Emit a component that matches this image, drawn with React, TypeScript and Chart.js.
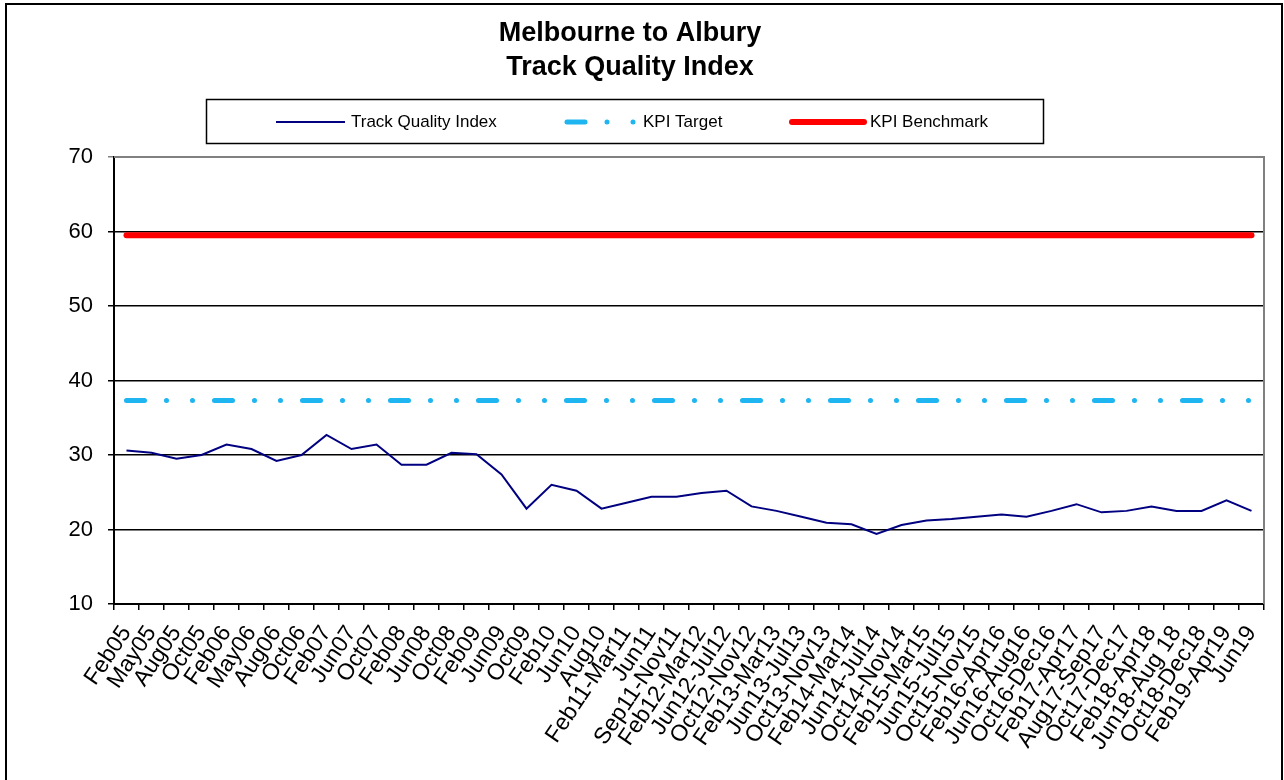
import React, { useEffect, useRef } from "react";
import { Chart, registerables } from "chart.js";

Chart.register(...registerables);

const FONT = '"Liberation Sans", Arial, Helvetica, sans-serif';

const titleLines = ["Melbourne to Albury", "Track Quality Index"];

const categories = [
  "Feb05", "May05", "Aug05", "Oct05", "Feb06", "May06", "Aug06", "Oct06",
  "Feb07", "Jun07", "Oct07", "Feb08", "Jun08", "Oct08", "Feb09", "Jun09",
  "Oct09", "Feb10", "Jun10", "Aug10", "Feb11-Mar11", "Jun11", "Sep11-Nov11",
  "Feb12-Mar12", "Jun12-Jul12", "Oct12-Nov12", "Feb13-Mar13", "Jun13-Jul13",
  "Oct13-Nov13", "Feb14-Mar14", "Jun14-Jul14", "Oct14-Nov14", "Feb15-Mar15",
  "Jun15-Jul15", "Oct15-Nov15", "Feb16-Apr16", "Jun16-Aug16", "Oct16-Dec16",
  "Feb17-Apr17", "Aug17-Sep17", "Oct17-Dec17", "Feb18-Apr18", "Jun18-Aug 18",
  "Oct18-Dec18", "Feb19-Apr19", "Jun19",
];

const trackQualityIndex = [
  30.6, 30.3, 29.5, 30.0, 31.4, 30.8, 29.2, 30.0, 32.7, 30.8, 31.4, 28.7,
  28.7, 30.3, 30.1, 27.4, 22.8, 26.0, 25.2, 22.8, 23.6, 24.4, 24.4, 24.9,
  25.2, 23.1, 22.5, 21.7, 20.9, 20.7, 19.4, 20.6, 21.2, 21.4, 21.7, 22.0,
  21.7, 22.5, 23.4, 22.3, 22.5, 23.1, 22.5, 22.5, 23.9, 22.5,
];

const kpiTargetValue = 37.3;
const kpiBenchmarkValue = 59.5;

const seriesNames = ["Track Quality Index", "KPI Target", "KPI Benchmark"];
const seriesColors = ["#000080", "#1FB5F0", "#FF0000"];

const yMin = 10;
const yMax = 70;
const yStep = 10;

const TARGET_DASH = [18, 22, 0, 26, 0, 22];

const decorPlugin = {
  id: "decor",
  beforeDraw(chart: any) {
    const ctx = chart.ctx;
    ctx.save();
    ctx.fillStyle = "#ffffff";
    ctx.fillRect(0, 0, chart.width, chart.height);
    ctx.restore();
  },
  afterDraw(chart: any) {
    const ctx = chart.ctx;
    const area = chart.chartArea;
    ctx.save();
    ctx.strokeStyle = "#808080";
    ctx.lineWidth = 2;
    ctx.beginPath();
    ctx.moveTo(area.left, area.top);
    ctx.lineTo(area.right, area.top);
    ctx.lineTo(area.right, area.bottom);
    ctx.stroke();

    ctx.strokeStyle = "#000000";
    ctx.lineWidth = 2;
    ctx.strokeRect(6, 4, 1276, 800);

    ctx.fillStyle = "#000000";
    ctx.font = `bold 27px ${FONT}`;
    ctx.textAlign = "center";
    ctx.textBaseline = "middle";
    ctx.fillText(titleLines[0], 630, 34);
    ctx.fillText(titleLines[1], 630, 68);

    ctx.lineWidth = 1.5;
    ctx.strokeStyle = "#000000";
    ctx.strokeRect(206.5, 99.5, 837, 44);

    const ly = 122;
    ctx.font = `17px ${FONT}`;
    ctx.textAlign = "left";
    ctx.textBaseline = "middle";

    ctx.strokeStyle = seriesColors[0];
    ctx.lineWidth = 2;
    ctx.beginPath();
    ctx.moveTo(276, ly);
    ctx.lineTo(345, ly);
    ctx.stroke();
    ctx.fillText(seriesNames[0], 351, ly);

    ctx.strokeStyle = seriesColors[1];
    ctx.lineWidth = 5;
    ctx.lineCap = "round";
    ctx.setLineDash(TARGET_DASH);
    ctx.beginPath();
    ctx.moveTo(567, ly);
    ctx.lineTo(640, ly);
    ctx.stroke();
    ctx.setLineDash([]);
    ctx.fillText(seriesNames[1], 643, ly);

    ctx.strokeStyle = seriesColors[2];
    ctx.lineWidth = 6;
    ctx.lineCap = "round";
    ctx.beginPath();
    ctx.moveTo(792, ly);
    ctx.lineTo(864, ly);
    ctx.stroke();
    ctx.fillText(seriesNames[2], 870, ly);

    ctx.restore();
  },
};

export default function App() {
  const canvasRef = useRef<HTMLCanvasElement | null>(null);

  useEffect(() => {
    const canvas = canvasRef.current;
    if (!canvas) return;
    const chart = new Chart(canvas, {
      type: "line",
      data: {
        labels: categories,
        datasets: [
          {
            label: seriesNames[2],
            data: categories.map(() => kpiBenchmarkValue),
            borderColor: seriesColors[2],
            borderWidth: 6,
            borderCapStyle: "round",
            pointRadius: 0,
            fill: false,
            tension: 0,
          },
          {
            label: seriesNames[1],
            data: categories.map(() => kpiTargetValue),
            borderColor: seriesColors[1],
            borderWidth: 5,
            borderDash: TARGET_DASH,
            borderCapStyle: "round",
            pointRadius: 0,
            fill: false,
            tension: 0,
          },
          {
            label: seriesNames[0],
            data: trackQualityIndex,
            borderColor: seriesColors[0],
            borderWidth: 2,
            pointRadius: 0,
            fill: false,
            tension: 0,
          },
        ],
      },
      options: {
        responsive: false,
        animation: false,
        devicePixelRatio: 1,
        layout: { padding: { left: 8, right: 20, top: 157, bottom: 0 } },
        plugins: {
          legend: { display: false },
          title: { display: false },
          tooltip: { enabled: false },
        },
        scales: {
          x: {
            type: "category",
            offset: true,
            grid: {
              offset: true,
              drawOnChartArea: false,
              drawTicks: true,
              tickLength: 6,
              color: "#000000",
              lineWidth: 1.5,
            },
            border: { display: true, color: "#000000", width: 2 },
            ticks: {
              autoSkip: false,
              maxRotation: 56,
              minRotation: 56,
              color: "#000000",
              padding: 11,
              font: { family: FONT, size: 23 },
            },
            afterFit(scale: any) {
              scale.height = 176;
              scale.paddingLeft = 0;
              scale.paddingRight = 0;
            },
          },
          y: {
            min: yMin,
            max: yMax,
            ticks: {
              stepSize: yStep,
              color: "#000000",
              padding: 15,
              font: { family: FONT, size: 22 },
            },
            grid: {
              color: (c: any) => (c.tick && c.tick.value === yMax ? "#808080" : "#000000"),
              lineWidth: 1.5,
              tickLength: 6,
              drawTicks: true,
            },
            border: { display: true, color: "#000000", width: 2 },
            afterFit(scale: any) {
              scale.width = 106;
            },
          },
        },
      },
      plugins: [decorPlugin],
    });
    return () => chart.destroy();
  }, []);

  return (
    <div style={{ position: "absolute", left: 0, top: 0, width: 1284, height: 780, background: "#fff" }}>
      <canvas ref={canvasRef} width={1284} height={780} style={{ display: "block" }} />
    </div>
  );
}
